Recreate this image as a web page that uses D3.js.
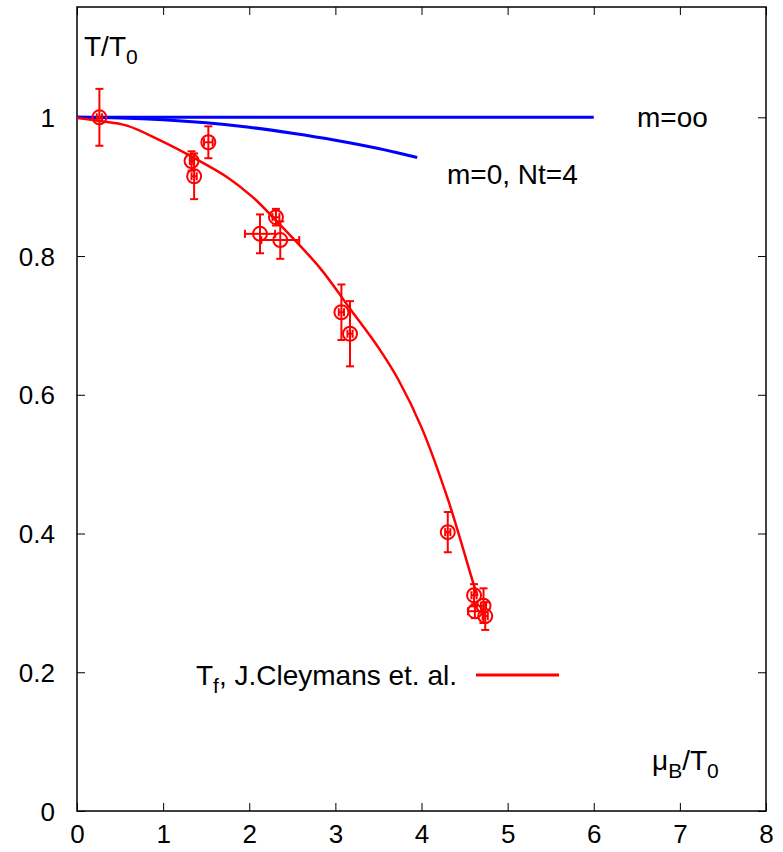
<!DOCTYPE html>
<html>
<head>
<meta charset="utf-8">
<script src="https://cdn.jsdelivr.net/npm/d3@7"></script>
<style>
  body { margin: 0; background: #fff; }
  text { font-family: "Liberation Sans", Arial, Helvetica, sans-serif; fill: #000; }
</style>
</head>
<body>
<svg id="chart"></svg>
<script>
// tick labels
const xTicks = [0, 1, 2, 3, 4, 5, 6, 7, 8];
const yTicks = [0, 0.2, 0.4, 0.6, 0.8, 1];

// freeze-out points: mu_B/T0, T/T0, x error, y error
const muB  = [0.26, 1.33, 1.36, 1.525, 2.125, 2.31, 2.36, 3.07, 3.17, 4.305, 4.61, 4.62, 4.72, 4.74];
const tVal = [1.0, 0.937, 0.915, 0.964, 0.832, 0.856, 0.823, 0.719, 0.688, 0.402, 0.311, 0.288, 0.296, 0.281];
const xErr = [0.03, 0.02, 0.03, 0.05, 0.175, 0.04, 0.22, 0.03, 0.03, 0.03, 0.03, 0.08, 0.03, 0.03];
const yErr = [0.041, 0.014, 0.033, 0.023, 0.028, 0.012, 0.027, 0.04, 0.047, 0.029, 0.016, 0.01, 0.025, 0.02];

// Cleymans freeze-out curve
const fitMu = [0, 0.25, 0.58, 0.96, 1.35, 1.74, 2.04, 2.32, 2.82, 3.17, 3.5, 3.73, 4.0, 4.31, 4.6, 4.65];
const fitT  = [0.999, 0.995, 0.988, 0.967, 0.942, 0.914, 0.885, 0.85, 0.783, 0.724, 0.668, 0.622, 0.553, 0.448, 0.329, 0.31];

// m=infinity line and m=0, Nt=4 line
const infMu = [0, 6];
const infT  = [1, 1];
const nt4Mu = [0, 0.5, 1, 1.5, 2, 2.5, 3, 3.5, 3.95];
const nt4T  = [1, 0.999, 0.9964, 0.992, 0.9856, 0.977, 0.967, 0.955, 0.942];

const W = 783, H = 852;
const margin = { top: 7, right: 17, bottom: 41, left: 77 };
const width = W - margin.left - margin.right;
const height = H - margin.top - margin.bottom;

const svg = d3.select("#chart").attr("width", W).attr("height", H);
const g = svg.append("g").attr("transform", `translate(${margin.left},${margin.top})`);

const x = d3.scaleLinear().domain([0, 8]).range([0, width]);
const y = d3.scaleLinear().domain([0, 1.159]).range([height, 0]);

const fmtY = d => d === 0 ? "0" : d === 1 ? "1" : d.toFixed(1);

// axes with gnuplot style inward ticks on all sides
const tickLen = 8;
function styleAxis(sel) {
  sel.select(".domain").remove();
  sel.selectAll(".tick line").attr("stroke", "#000").attr("stroke-width", 1);
  sel.selectAll(".tick text").style("font-size", "26px");
}
g.append("g").attr("class", "xaxis").attr("transform", `translate(0,${height})`)
  .call(d3.axisBottom(x).tickValues(xTicks).tickSize(-tickLen).tickPadding(14).tickFormat(d3.format("d")))
  .call(styleAxis);
g.append("g")
  .call(d3.axisTop(x).tickValues(xTicks).tickSize(-tickLen).tickFormat(""))
  .call(styleAxis);
g.append("g").attr("class", "yaxis")
  .call(d3.axisLeft(y).tickValues(yTicks).tickSize(-tickLen).tickPadding(22).tickFormat(fmtY))
  .call(styleAxis);
g.append("g").attr("transform", `translate(${width},0)`)
  .call(d3.axisRight(y).tickValues(yTicks).tickSize(-tickLen).tickFormat(""))
  .call(styleAxis);

g.selectAll(".yaxis .tick text").attr("dy", "0.35em");
g.selectAll(".xaxis .tick text").attr("dy", "0.71em");

g.append("rect")
  .attr("width", width).attr("height", height)
  .attr("fill", "none").attr("stroke", "#000").attr("stroke-width", 1.5);

const line = d3.line().x(d => x(d[0])).y(d => y(d[1]));

// blue lines
g.append("path")
  .attr("d", line(d3.zip(infMu, infT)))
  .attr("fill", "none").attr("stroke", "#0000ff").attr("stroke-width", 3);
g.append("path")
  .attr("d", line.curve(d3.curveCatmullRom)(d3.zip(nt4Mu, nt4T)))
  .attr("fill", "none").attr("stroke", "#0000ff").attr("stroke-width", 3);

// red fit
g.append("path")
  .attr("d", line.curve(d3.curveCatmullRom)(d3.zip(fitMu, fitT)))
  .attr("fill", "none").attr("stroke", "#ff0000").attr("stroke-width", 2.5);

// points with xy error bars
const pts = muB.map((m, i) => ({ m, t: tVal[i], ex: xErr[i], ey: yErr[i] }));
const cap = 4;
const pg = g.selectAll(".pt").data(pts).join("g").attr("class", "pt")
  .attr("stroke", "#ff0000").attr("stroke-width", 2).attr("fill", "none");
pg.each(function(d) {
  const s = d3.select(this);
  const cx = x(d.m), cy = y(d.t);
  const y1 = y(d.t + d.ey), y2 = y(d.t - d.ey);
  const x1 = x(d.m - d.ex), x2 = x(d.m + d.ex);
  s.append("line").attr("x1", cx).attr("x2", cx).attr("y1", y1).attr("y2", y2);
  s.append("line").attr("x1", cx - cap).attr("x2", cx + cap).attr("y1", y1).attr("y2", y1);
  s.append("line").attr("x1", cx - cap).attr("x2", cx + cap).attr("y1", y2).attr("y2", y2);
  s.append("line").attr("x1", x1).attr("x2", x2).attr("y1", cy).attr("y2", cy);
  s.append("line").attr("x1", x1).attr("x2", x1).attr("y1", cy - cap).attr("y2", cy + cap);
  s.append("line").attr("x1", x2).attr("x2", x2).attr("y1", cy - cap).attr("y2", cy + cap);
  s.append("circle").attr("cx", cx).attr("cy", cy).attr("r", 7);
});

// labels
const lab = (px, py, anchor) => svg.append("text").attr("x", px).attr("y", py)
  .attr("text-anchor", anchor || "start").style("font-size", "28px");

const t1 = lab(84, 56);
t1.append("tspan").text("T/T");
t1.append("tspan").attr("dy", 8).style("font-size", "21px").text("0");

lab(637, 127).text("m=oo");
lab(447, 184).text("m=0, Nt=4");

const t2 = lab(457, 685, "end");
t2.append("tspan").text("T");
t2.append("tspan").attr("dy", 8).style("font-size", "21px").text("f");
t2.append("tspan").attr("dy", -8).text(", J.Cleymans et. al.");

svg.append("line").attr("x1", 476).attr("x2", 559).attr("y1", 675).attr("y2", 675)
  .attr("stroke", "#ff0000").attr("stroke-width", 3);

const t3 = lab(652, 770);
t3.append("tspan").text("\u03bc");
t3.append("tspan").attr("dy", 8).style("font-size", "21px").text("B");
t3.append("tspan").attr("dy", -8).text("/T");
t3.append("tspan").attr("dy", 8).style("font-size", "21px").text("0");
</script>
</body>
</html>
